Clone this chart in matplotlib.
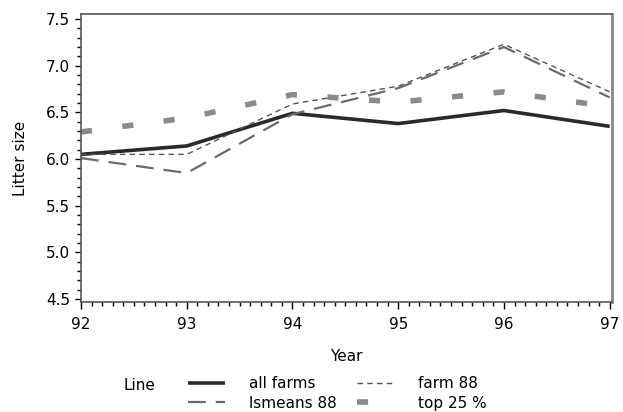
import matplotlib

matplotlib.use("Agg")
import matplotlib.pyplot as plt
from matplotlib.ticker import MultipleLocator

plt.rcParams["font.family"] = ["DejaVu Sans"]
FS = 11

years = [92, 93, 94, 95, 96, 97]
all_farms = [6.05, 6.14, 6.49, 6.38, 6.52, 6.35]
farm_88 = [6.05, 6.05, 6.59, 6.78, 7.23, 6.72]
lsmeans_88 = [6.01, 5.85, 6.48, 6.76, 7.20, 6.66]
top_25 = [6.29, 6.44, 6.69, 6.61, 6.72, 6.56]

fig = plt.figure(figsize=(6.23, 4.12), dpi=100)
ax = fig.add_axes([0.130, 0.267, 0.852, 0.699])

ax.plot(years, all_farms, color="#2a2a2a", lw=2.6, solid_capstyle="butt",
        label="all farms")
ax.plot(years, farm_88, color="#555555", lw=1.0, dashes=(4, 3),
        label="farm 88")
ax.plot(years, lsmeans_88, color="#6a6a6a", lw=1.6, dashes=(8, 4.5),
        label="lsmeans 88")
ax.plot(years, top_25, color="#8a8a8a", lw=4, dashes=(2, 5.5),
        dash_capstyle="butt", label="top 25 %")

ax.set_xlim(92, 97.02)
ax.set_ylim(4.468, 7.554)
ax.xaxis.set_major_locator(MultipleLocator(1))
ax.xaxis.set_minor_locator(MultipleLocator(0.1))
ax.yaxis.set_major_locator(MultipleLocator(0.5))
ax.yaxis.set_minor_locator(MultipleLocator(0.1))
ax.yaxis.set_major_formatter(lambda v, p: f"{v:.1f}")
ax.tick_params(which="major", length=4, width=1, labelsize=FS, pad=4)
ax.tick_params(which="minor", length=3, width=1)
ax.tick_params(axis="x", which="major", length=5, pad=6)
for s in ax.spines.values():
    s.set_color("#555555")
    s.set_linewidth(1.2)
ax.spines["right"].set_color("#888888")
ax.spines["right"].set_linewidth(2)

ax.set_xlabel("Year", fontsize=FS, labelpad=12)
ax.set_ylabel("Litter size", fontsize=FS, labelpad=13)

handles, labels = ax.get_legend_handles_labels()
order = [0, 2, 1, 3]
fig.legend([handles[i] for i in order], [labels[i] for i in order],
           ncol=2, frameon=False, fontsize=FS, loc="lower left",
           bbox_to_anchor=(0.297, -0.004), borderaxespad=0,
           handlelength=2.4, handletextpad=1.6, columnspacing=1.3,
           labelspacing=0.3, borderpad=0.2)
fig.text(0.199, 0.0655, "Line", fontsize=FS, ha="left", va="center")

fig.savefig("out.png", dpi=100)
